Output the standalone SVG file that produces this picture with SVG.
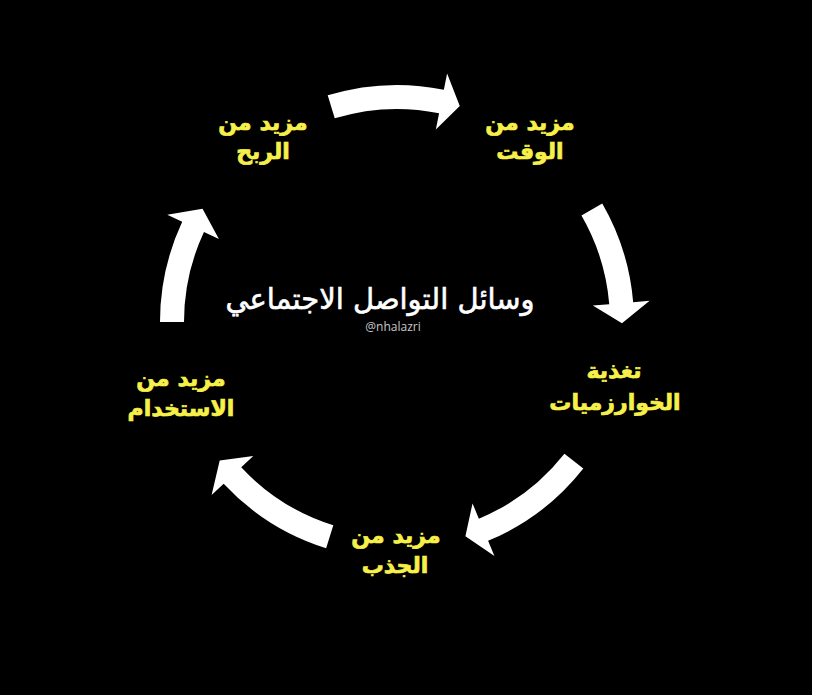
<svg xmlns="http://www.w3.org/2000/svg" width="819" height="698" viewBox="0 0 819 698">
<style>
.lbl{font-family:"DejaVu Sans","Noto Sans",sans-serif;font-weight:bold;font-size:22px;fill:#F7F04A;stroke:#F7F04A;stroke-width:0.7;text-anchor:middle;direction:rtl}
.title{font-family:"DejaVu Sans","Noto Sans",sans-serif;font-size:29px;fill:#FFFFFF;stroke:#FFFFFF;stroke-width:0.6;text-anchor:middle;direction:rtl}
.handle{font-family:"Open Sans","Liberation Sans",sans-serif;font-size:12px;fill:#C8C8C8;text-anchor:middle}
.arrow{fill:#FFFFFF;stroke:none}
</style>
<rect x="0" y="0" width="819" height="698" fill="#FFFFFF"/>
<rect x="0" y="0" width="812" height="695" fill="#000000"/>
<g id="connectors">
<path class="arrow" d="M327.71,95.36 A237,237 0 0 1 443.85,89.68 L447.11,73.50 L459.77,105.93 L435.84,129.38 L439.10,113.20 A213,213 0 0 0 334.73,118.31 Z"/>
<path class="arrow" d="M602.25,203.5 A237,237 0 0 1 633.17,302.17 L649.61,300.79 L621.99,323.18 L592.81,305.56 L609.25,304.18 A213,213 0 0 0 581.46,215.5 Z"/>
<path class="arrow" d="M583.29,468.51 A237,237 0 0 1 488.08,540.80 L494.42,556.03 L465.41,536.35 L472.52,503.41 L478.86,518.64 A213,213 0 0 0 564.43,453.67 Z"/>
<path class="arrow" d="M326.13,548.15 A237,237 0 0 1 223.67,483.63 L211.60,494.89 L219.70,460.52 L253.29,456.01 L241.22,467.27 A213,213 0 0 0 333.30,525.25 Z"/>
<path class="arrow" d="M160,322 A237,237 0 0 1 182.20,221.84 L167.25,214.87 L202.54,208.82 L218.91,238.96 L203.96,231.98 A213,213 0 0 0 184,322 Z"/>
</g>
<g id="center">
<text class="title" x="380" y="309">وسائل التواصل الاجتماعي</text>
<text class="handle" x="393" y="331">@nhalazri</text>
</g>
<g id="node-profit">
<text class="lbl" x="263" y="130">مزيد من</text>
<text class="lbl" x="263" y="159">الربح</text>
</g>
<g id="node-time">
<text class="lbl" x="530" y="130">مزيد من</text>
<text class="lbl" x="530" y="159">الوقت</text>
</g>
<g id="node-algorithms">
<text class="lbl" x="614" y="378">تغذية</text>
<text class="lbl" x="615" y="410">الخوارزميات</text>
</g>
<g id="node-attraction">
<text class="lbl" x="396" y="543">مزيد من</text>
<text class="lbl" x="395" y="573">الجذب</text>
</g>
<g id="node-usage">
<text class="lbl" x="181" y="386">مزيد من</text>
<text class="lbl" x="181" y="416">الاستخدام</text>
</g>
</svg>
